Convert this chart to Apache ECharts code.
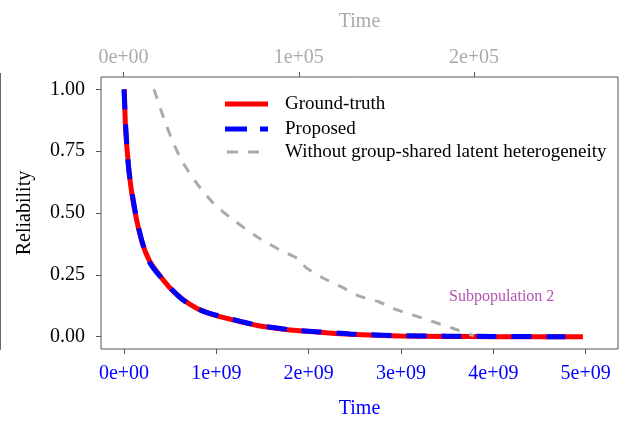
<!DOCTYPE html>
<html>
<head>
<meta charset="utf-8">
<script src="https://cdn.jsdelivr.net/npm/echarts@6/dist/echarts.min.js"></script>
<style>
html,body{margin:0;padding:0;background:#fff;}
#chart{width:627px;height:421px;}
</style>
</head>
<body>
<div id="chart"></div>
<script>
// ---- data ----
const seriesNames = ["Ground-truth", "Proposed", "Without group-shared latent heterogeneity"];
// bottom time axis (units of time)
const gtTime  = [0.004e9, 0.018e9, 0.054e9, 0.087e9, 0.137e9, 0.198e9, 0.271e9, 0.354e9, 0.498e9, 0.642e9, 0.786e9, 0.912e9, 1.039e9, 1.255e9, 1.472e9, 1.797e9, 2.12e9, 2.45e9, 2.99e9, 3.5e9, 4.0e9, 4.5e9, 4.97e9];
const gtRel   = [1.0, 0.836, 0.674, 0.573, 0.472, 0.379, 0.310, 0.263, 0.197, 0.149, 0.115, 0.095, 0.081, 0.061, 0.043, 0.027, 0.018, 0.010, 0.003, 0.001, 0.0, 0.0, 0.0];
const propTime = [0.0, 0.02e9, 0.05e9, 0.09e9, 0.14e9, 0.2e9, 0.27e9, 0.35e9, 0.5e9, 0.64e9, 0.79e9, 0.91e9, 1.04e9, 1.26e9, 1.47e9, 1.8e9, 2.12e9, 2.45e9, 3.0e9, 3.5e9, 4.0e9, 4.5e9, 4.78e9];
const propRel  = [1.0, 0.84, 0.68, 0.575, 0.47, 0.38, 0.305, 0.262, 0.198, 0.148, 0.114, 0.096, 0.083, 0.062, 0.044, 0.028, 0.019, 0.011, 0.004, 0.002, 0.001, 0.0, 0.0];
// top time axis
const woTime = [0.174e5, 0.227e5, 0.285e5, 0.342e5, 0.418e5, 0.513e5, 0.627e5, 0.761e5, 0.894e5, 0.990e5, 1.04e5, 1.142e5, 1.247e5, 1.342e5, 1.456e5, 1.561e5, 1.666e5, 1.780e5, 1.894e5, 1.999e5];
const woRel  = [1.0, 0.889, 0.782, 0.701, 0.620, 0.539, 0.472, 0.404, 0.350, 0.317, 0.280, 0.236, 0.200, 0.165, 0.141, 0.108, 0.084, 0.057, 0.030, 0.003];
// tick values
const bottomTicks = [0, 1e9, 2e9, 3e9, 4e9, 5e9];
const topTicks = [0, 1e5, 2e5];
const yTicks = [0, 0.25, 0.5, 0.75, 1.0];
const annotation = "Subpopulation 2";

const zip = (a, b) => a.map((v, i) => [v, b[i]]);
const sci = (v, e) => v === 0 ? "0e+00" : (Math.round(v / Math.pow(10, e))) + "e+" + (e < 10 ? "0" + e : e);

const FONT = "'Liberation Serif','Times New Roman',serif";
const chart = echarts.init(document.getElementById('chart'), null, {renderer: 'canvas'});
const option = {
  animation: false,
  backgroundColor: '#fff',
  grid: {left: 101, top: 77, width: 517, height: 272, show: true, borderColor: '#555', borderWidth: 1, backgroundColor: 'transparent', outerBoundsMode: 'none', containLabel: false},
  xAxis: [
    {
      type: 'value', position: 'bottom', min: -0.249e9, max: 5.35e9,
      name: 'Time', nameLocation: 'middle', nameGap: 50,
      nameTextStyle: {fontFamily: FONT, fontSize: 20, color: '#0000ff'},
      axisLine: {show: false, onZero: false},
      axisTick: {show: true, length: 5, lineStyle: {color: '#555'}, customValues: bottomTicks},
      axisLabel: {fontFamily: FONT, fontSize: 20, color: '#0000ff', margin: 15, customValues: bottomTicks, formatter: v => sci(v, 9).replace(/^0e\+09$/, '0e+00')},
      splitLine: {show: false}
    },
    {
      type: 'value', position: 'top', min: -0.1284e5, max: 2.8217e5,
      name: 'Time', nameLocation: 'middle', nameGap: 45,
      nameTextStyle: {fontFamily: FONT, fontSize: 20, color: '#aaaaaa'},
      axisLine: {show: false, onZero: false},
      axisTick: {show: true, length: 5, lineStyle: {color: '#555'}, customValues: topTicks},
      axisLabel: {fontFamily: FONT, fontSize: 20, color: '#aaaaaa', margin: 9, customValues: topTicks, formatter: v => sci(v, 5).replace(/^0e\+05$/, '0e+00')},
      splitLine: {show: false}
    }
  ],
  yAxis: {
    type: 'value', min: -0.05, max: 1.05,
    name: 'Reliability', nameLocation: 'middle', nameGap: 66,
    nameTextStyle: {fontFamily: FONT, fontSize: 20, color: '#000'},
    axisLine: {show: false, onZero: false},
    axisTick: {show: true, length: 5, lineStyle: {color: '#555'}, customValues: yTicks},
    axisLabel: {fontFamily: FONT, fontSize: 20, color: '#000', margin: 16, customValues: yTicks, formatter: v => v.toFixed(2)},
    splitLine: {show: false}
  },
  series: [
    {name: seriesNames[0], type: 'line', xAxisIndex: 0, data: zip(gtTime, gtRel), symbol: 'none', smooth: 0.25,
     lineStyle: {color: '#ff0000', width: 5}, z: 2},
    {name: seriesNames[1], type: 'line', xAxisIndex: 0, data: zip(propTime, propRel), symbol: 'none', smooth: 0.25,
     lineStyle: {color: '#0000ff', width: 5, type: [20, 15]}, z: 3},
    {name: seriesNames[2], type: 'line', xAxisIndex: 1, data: zip(woTime, woRel), symbol: 'none', smooth: 0.25,
     lineStyle: {color: '#aaaaaa', width: 3, type: [10, 10]}, z: 4}
  ],
  graphic: [
    {type: 'line', shape: {x1: 0.5, y1: 73, x2: 0.5, y2: 350}, style: {stroke: '#666', lineWidth: 1}},
    // legend
    {type: 'line', shape: {x1: 225, y1: 104, x2: 268, y2: 104}, style: {stroke: '#ff0000', lineWidth: 5}},
    {type: 'line', shape: {x1: 225, y1: 129, x2: 268, y2: 129}, style: {stroke: '#0000ff', lineWidth: 5, lineDash: [22, 13]}},
    {type: 'line', shape: {x1: 227, y1: 152, x2: 260, y2: 152}, style: {stroke: '#aaaaaa', lineWidth: 3, lineDash: [11, 10]}},
    {type: 'text', left: 285, top: 95, style: {text: seriesNames[0], font: "19px " + FONT, fill: '#000'}},
    {type: 'text', left: 285, top: 120, style: {text: seriesNames[1], font: "19px " + FONT, fill: '#000'}},
    {type: 'text', left: 285, top: 143, style: {text: seriesNames[2], font: "19px " + FONT, fill: '#000'}},
    {type: 'text', left: 449, top: 289, style: {text: annotation, font: "16px " + FONT, fill: '#b452b4'}}
  ]
};
chart.setOption(option);
</script>
</body>
</html>
